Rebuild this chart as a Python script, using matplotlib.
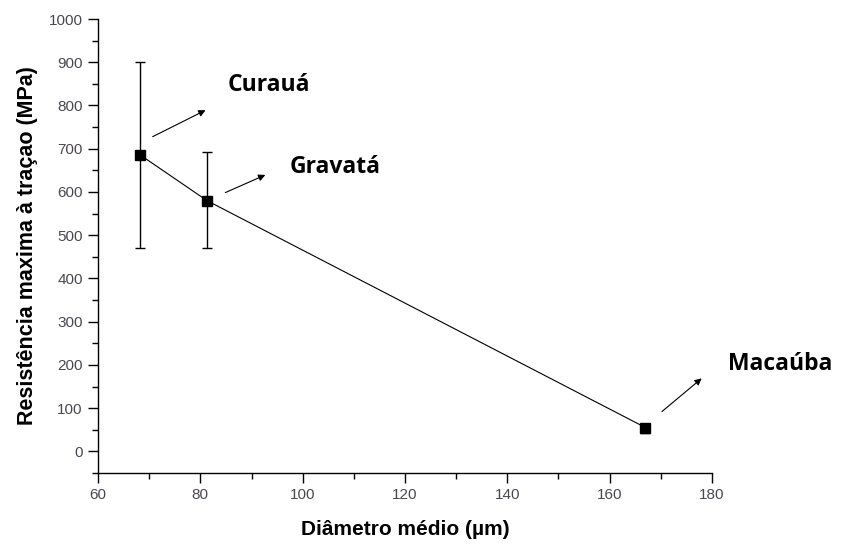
import matplotlib

matplotlib.use("Agg")
import matplotlib.pyplot as plt
from matplotlib.ticker import MultipleLocator

fibras = ["Curauá", "Gravatá", "Macaúba"]
diametro = [68.2, 81.3, 167.0]
resistencia = [686, 580, 55]
erro_inf = [215, 110, 12]
erro_sup = [214, 113, 0]

# arrow tail, arrow head, label position (data coordinates)
seta_inicio = [(70.2, 725), (84.4, 596), (169.8, 88)]
seta_fim = [(81.5, 792), (93.2, 642), (178.4, 173)]
texto_pos = [(85.4, 848), (97.5, 658), (183.1, 201)]

fig = plt.figure(figsize=(8.42, 5.45), dpi=100)
ax = fig.add_axes([0.1164, 0.1321, 0.7292, 0.8330])

ax.errorbar(diametro, resistencia, yerr=[erro_inf, erro_sup], color="black", lw=0.8,
            marker="s", ms=6.5, elinewidth=1.0, capsize=3.6, capthick=1.0)

for nome, ini, fim, pos in zip(fibras, seta_inicio, seta_fim, texto_pos):
    ax.annotate("", xy=fim, xytext=ini, annotation_clip=False,
                arrowprops=dict(arrowstyle="-|>", color="black", lw=0.8, mutation_scale=10))
    ax.text(pos[0], pos[1], nome, fontsize=16.5, fontweight="bold", family="Open Sans",
            va="center", ha="left", clip_on=False)

ax.set_xlim(60, 180)
ax.set_ylim(-50, 1000)
ax.xaxis.set_major_locator(MultipleLocator(20))
ax.xaxis.set_minor_locator(MultipleLocator(10))
ax.yaxis.set_major_locator(MultipleLocator(100))
ax.yaxis.set_minor_locator(MultipleLocator(50))
for side in ["top", "right"]:
    ax.spines[side].set_visible(False)
for side in ["left", "bottom"]:
    ax.spines[side].set_linewidth(1.0)
ax.tick_params(which="major", length=7, width=1.0, labelsize=11, labelcolor="#4a4750",
               direction="out", pad=4)
ax.tick_params(which="minor", length=4.3, width=1.0, direction="out")
for lab in ax.get_xticklabels() + ax.get_yticklabels():
    lab.set_family("Liberation Sans")

ax.set_xlabel("Diâmetro médio (µm)", fontsize=15, fontweight="bold", family="Liberation Sans",
              labelpad=13)
ax.set_ylabel("Resistência maxima à traçao (MPa)", fontsize=15.5, fontweight="bold",
              family="Liberation Sans", labelpad=8)

fig.savefig("out.png", dpi=100)
